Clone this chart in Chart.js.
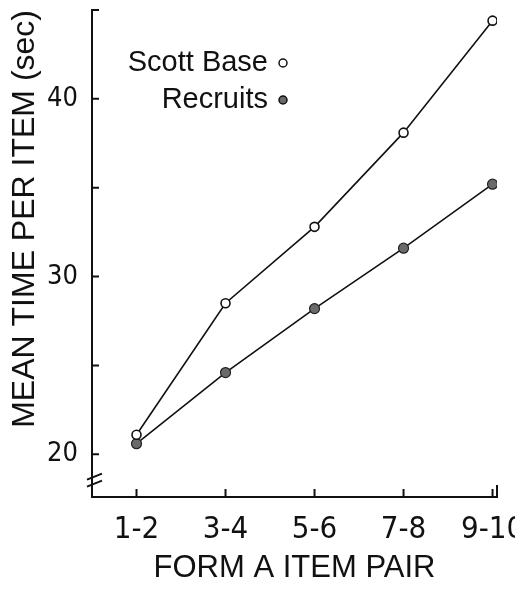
<!DOCTYPE html>
<html>
<head>
<meta charset="utf-8">
<script src="https://cdn.jsdelivr.net/npm/chart.js@4"></script>
<style>
  html, body { margin: 0; background: #fff; }
</style>
</head>
<body>
<canvas id="timeChart" width="515" height="590"></canvas>
<script>
const itemPairs = ['1-2', '3-4', '5-6', '7-8', '9-10'];
const scottBase = [21.1, 28.5, 32.8, 38.1, 44.4];
const recruits = [20.6, 24.6, 28.2, 31.6, 35.2];
const yTickValues = [20, 25, 30, 35, 40, 45];
const yLabelled = [20, 30, 40];

const narrow = "'Liberation Sans Narrow', 'DejaVu Sans Condensed', sans-serif";
const plain = "'Liberation Sans', 'DejaVu Sans', sans-serif";
const ink = '#111';

// inward tick marks + the axis break
const axisMarks = {
  id: 'axisMarks',
  afterDraw(chart) {
    const { ctx, scales: { x, y }, chartArea: a } = chart;
    ctx.save();
    ctx.strokeStyle = ink;
    ctx.lineWidth = 2;
    ctx.beginPath();
    yTickValues.forEach(v => {
      const py = y.getPixelForValue(v);
      ctx.moveTo(a.left, py);
      ctx.lineTo(a.left + 7, py);
    });
    x.ticks.forEach((t, i) => {
      const px = x.getPixelForValue(t.value);
      ctx.moveTo(px, a.bottom);
      ctx.lineTo(px, a.bottom - 8);
    });
    ctx.moveTo(a.right, a.bottom);
    ctx.lineTo(a.right, a.bottom - 12);
    const by = y.getPixelForValue(18.75);
    ctx.moveTo(a.left - 5, by + 3);
    ctx.lineTo(a.left + 10, by - 3);
    ctx.moveTo(a.left - 5, by + 10);
    ctx.lineTo(a.left + 10, by + 4);
    ctx.stroke();
    ctx.restore();
  }
};

// legend with the marker after the label, as in the figure
const endLegend = {
  id: 'endLegend',
  afterDraw(chart) {
    const { ctx } = chart;
    ctx.save();
    chart.data.datasets.forEach((ds, i) => {
      const ty = 63 + i * 37;
      ctx.font = '29px ' + plain;
      ctx.textAlign = 'right';
      ctx.textBaseline = 'middle';
      ctx.fillStyle = ink;
      ctx.fillText(ds.label, 268, ty);
      ctx.beginPath();
      ctx.arc(283, ty, 4, 0, Math.PI * 2);
      ctx.fillStyle = ds.pointBackgroundColor;
      ctx.fill();
      ctx.lineWidth = 1.5;
      ctx.strokeStyle = ink;
      ctx.stroke();
    });
    ctx.restore();
  }
};

const ctx = document.getElementById('timeChart').getContext('2d');
const chart = new Chart(ctx, {
  type: 'line',
  data: {
    datasets: [{
      label: 'Scott Base',
      data: scottBase.map((v, i) => ({ x: i + 1, y: v })),
      borderColor: ink,
      borderWidth: 1.6,
      pointRadius: 4.5,
      pointBorderWidth: 1.6,
      pointBackgroundColor: '#fff',
      pointBorderColor: ink,
      fill: false
    }, {
      label: 'Recruits',
      data: recruits.map((v, i) => ({ x: i + 1, y: v })),
      borderColor: ink,
      borderWidth: 1.6,
      pointRadius: 5,
      pointBorderWidth: 1.2,
      pointBackgroundColor: '#6a6a6a',
      pointBorderColor: '#222',
      fill: false
    }]
  },
  options: {
    responsive: false,
    animation: false,
    layout: { padding: { top: 10, right: 18, left: 0, bottom: 0 } },
    plugins: { legend: { display: false }, tooltip: { enabled: false } },
    scales: {
      x: {
        type: 'linear',
        min: 0.5,
        max: 5.05,
        afterFit: s => { s.height = 93; s.paddingLeft = 0; s.paddingRight = 0; },
        afterBuildTicks: s => { s.ticks = itemPairs.map((_, i) => ({ value: i + 1 })); },
        grid: { display: false, drawTicks: false },
        border: { display: true, color: ink, width: 2 },
        ticks: {
          color: ink,
          padding: 14,
          maxRotation: 0,
          autoSkip: false,
          font: { family: narrow, size: 31 },
          callback: v => itemPairs[v - 1] || ''
        },
        title: {
          display: true,
          text: 'FORM A ITEM PAIR',
          color: ink,
          padding: { top: 0, bottom: 3 },
          font: { family: plain, size: 31 }
        }
      },
      y: {
        min: 17.6,
        max: 45,
        afterFit: s => { s.width = 92; s.paddingTop = 0; s.paddingBottom = 0; },
        afterBuildTicks: s => { s.ticks = yTickValues.map(v => ({ value: v })); },
        grid: { display: false, drawTicks: false },
        border: { display: true, color: ink, width: 2 },
        ticks: {
          color: ink,
          padding: 14,
          font: { family: narrow, size: 27 },
          callback: v => yLabelled.includes(v) ? String(v) : ''
        },
        title: {
          display: true,
          text: 'MEAN TIME PER ITEM (sec)',
          color: ink,
          align: 'end',
          padding: { top: 6, bottom: 0 },
          font: { family: plain, size: 32 }
        }
      }
    }
  },
  plugins: [axisMarks, endLegend]
});
</script>
</body>
</html>
